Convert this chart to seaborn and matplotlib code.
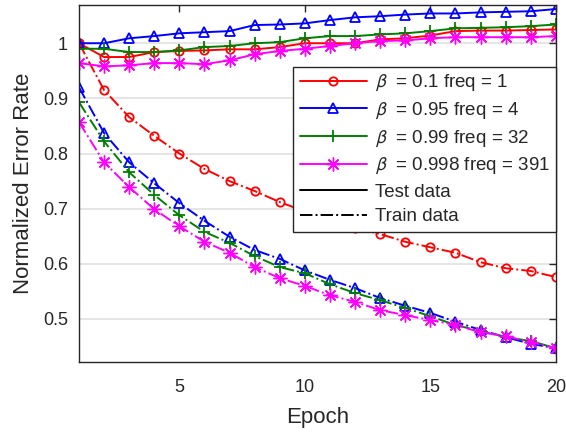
import matplotlib
matplotlib.use("Agg")
import matplotlib.pyplot as plt
from matplotlib.lines import Line2D
import seaborn as sns
import pandas as pd
import numpy as np

epochs = list(range(1, 21))

red_test = [1.0, 0.975, 0.975, 0.984, 0.986, 0.987, 0.989, 0.989, 0.993, 1.0,
            1.0, 1.0, 1.007, 1.009, 1.014, 1.022, 1.023, 1.023, 1.024, 1.025]
blue_test = [1.0, 1.0, 1.009, 1.013, 1.018, 1.02, 1.022, 1.033, 1.034, 1.036,
             1.042, 1.047, 1.049, 1.052, 1.054, 1.054, 1.056, 1.057, 1.058, 1.062]
green_test = [0.99, 0.99, 0.984, 0.984, 0.987, 0.993, 0.995, 1.0, 1.002, 1.009,
              1.013, 1.013, 1.016, 1.018, 1.022, 1.027, 1.028, 1.029, 1.031, 1.034]
magenta_test = [0.964, 0.958, 0.96, 0.964, 0.964, 0.962, 0.969, 0.98, 0.986, 0.99,
                0.995, 1.0, 1.004, 1.005, 1.009, 1.011, 1.011, 1.011, 1.011, 1.013]

red_train = [1.0, 0.915, 0.866, 0.832, 0.80, 0.772, 0.75, 0.732, 0.712, 0.695,
             0.679, 0.665, 0.654, 0.64, 0.63, 0.62, 0.603, 0.592, 0.587, 0.576]
blue_train = [0.92, 0.837, 0.784, 0.746, 0.71, 0.678, 0.649, 0.625, 0.609, 0.588,
              0.571, 0.556, 0.538, 0.524, 0.511, 0.495, 0.48, 0.467, 0.455, 0.447]
green_train = [0.893, 0.822, 0.766, 0.725, 0.688, 0.658, 0.638, 0.614, 0.594, 0.583,
               0.563, 0.547, 0.534, 0.52, 0.505, 0.489, 0.478, 0.467, 0.46, 0.447]
magenta_train = [0.857, 0.784, 0.739, 0.699, 0.668, 0.64, 0.62, 0.594, 0.574, 0.56,
                 0.543, 0.531, 0.516, 0.507, 0.498, 0.489, 0.476, 0.469, 0.458, 0.447]

labels = [r"$\beta$  = 0.1 freq = 1", r"$\beta$  = 0.95 freq = 4",
          r"$\beta$  = 0.99 freq = 32", r"$\beta$  = 0.998 freq = 391"]
colors = ["#ff0000", "#0000ff", "#008000", "#ff00ff"]
markers = ["o", "^", "+", (8, 2, 0)]
msizes = [6, 7, 9, 10]
mews = [1.3, 1.3, 1.3, 1.0]
tests = [red_test, blue_test, green_test, magenta_test]
trains = [red_train, blue_train, green_train, magenta_train]

sns.set_theme(style="white")
plt.rcParams['font.family'] = ['Liberation Sans', 'DejaVu Sans']
plt.rcParams['mathtext.fontset'] = 'stixsans'

fig = plt.figure(figsize=(5.66, 4.33), dpi=100)
ax = fig.add_axes([0.1396, 0.164, 0.8424, 0.824])

for c, m, ms, mw, te, tr in zip(colors, markers, msizes, mews, tests, trains):
    for ys, ls in ((te, '-'), (tr, '-.')):
        sns.lineplot(x=epochs, y=ys, ax=ax, color=c, marker=m, markersize=ms,
                     markerfacecolor='none', markeredgecolor=c, markeredgewidth=mw,
                     linewidth=1.4, linestyle=ls)

ax.set_xlim(1, 20)
ax.set_ylim(0.422, 1.069)
ax.set_xticks([5, 10, 15, 20])
ax.set_yticks([0.5, 0.6, 0.7, 0.8, 0.9, 1.0])
ax.set_yticklabels(["0.5", "0.6", "0.7", "0.8", "0.9", "1"])
ax.yaxis.grid(True, color="#e3e3e3", linewidth=1.3)
ax.xaxis.grid(False)
ax.set_axisbelow(True)
ax.tick_params(direction='in', length=5, width=1, top=True, right=True,
               labelsize=13, colors='#262626')
ax.tick_params(axis='x', pad=12)
ax.tick_params(axis='y', pad=8)
for s in ax.spines.values():
    s.set_color('#262626')
    s.set_linewidth(1.0)
ax.set_xlabel("Epoch", fontsize=16, color='#262626', labelpad=8)
ax.set_ylabel("Normalized Error Rate", fontsize=16, color='#262626', labelpad=6)

handles = []
for c, m, ms, mw in zip(colors, markers, msizes, mews):
    handles.append(Line2D([0], [0], color=c, marker=m, markersize=ms,
                          markerfacecolor='none', markeredgecolor=c,
                          markeredgewidth=mw, linewidth=1.4))
handles.append(Line2D([0], [0], color='black', linewidth=1.4, linestyle='-'))
handles.append(Line2D([0], [0], color='black', linewidth=1.4, linestyle='-.'))
leg_labels = labels + ["Test data", "Train data"]

leg = ax.legend(handles, leg_labels, loc='upper right', bbox_to_anchor=(1.0, 0.827),
                fontsize=13.5, frameon=True, fancybox=False, edgecolor='#262626',
                framealpha=1, handlelength=3.6, handletextpad=0.4,
                borderaxespad=0, labelspacing=0.4, borderpad=0.33)
leg.get_frame().set_linewidth(1.0)
for t in leg.get_texts():
    t.set_color('#262626')

fig.savefig("out.png", dpi=100)
